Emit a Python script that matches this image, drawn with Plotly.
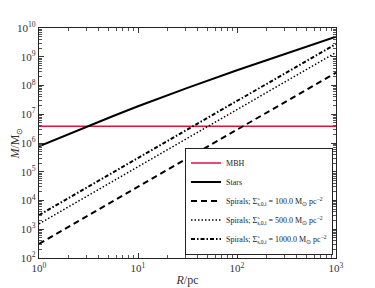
import plotly.graph_objects as go

# ---- data ----
R_mbh = [1, 1000]
M_mbh = [3.8e6, 3.8e6]

R_stars = [1, 1.78, 3.16, 5.62, 10, 17.8, 31.6, 100, 316, 1000]
M_stars = [7.6e5, 1.74e6, 3.98e6, 8.7e6, 1.9e7, 4.07e7, 8.3e7, 3.4e8, 1.32e9, 5.0e9]

R_spiral = [1, 10, 100, 1000]
M_spiral_100 = [3.1e2, 3.0e4, 2.9e6, 2.8e8]
M_spiral_500 = [1.55e3, 1.5e5, 1.45e7, 1.4e9]
M_spiral_1000 = [3.1e3, 3.0e5, 2.9e7, 2.8e9]

x_tickvals = [1, 10, 100, 1000]
x_ticktext = ["10<sup>0</sup>", "10<sup>1</sup>", "10<sup>2</sup>", "10<sup>3</sup>"]
y_tickvals = [1e2, 1e3, 1e4, 1e5, 1e6, 1e7, 1e8, 1e9, 1e10]
y_ticktext = ["10<sup>%d</sup>" % e for e in range(2, 11)]

FONT = "Liberation Serif"

def minor_vals(lo, hi):
    vals = []
    for e in range(lo, hi):
        for m in range(2, 10):
            vals.append(m * 10 ** e)
    return vals

fig = go.Figure()
fig.add_trace(go.Scatter(x=R_mbh, y=M_mbh, mode="lines", name="MBH",
                         line=dict(color="crimson", width=1.5)))
fig.add_trace(go.Scatter(x=R_stars, y=M_stars, mode="lines", name="Stars",
                         line=dict(color="black", width=2)))
fig.add_trace(go.Scatter(x=R_spiral, y=M_spiral_100, mode="lines",
                         name="Spirals; Σ̃<sub>s,0,i</sub> = 100.0 M<sub>⊙</sub> pc<sup>−2</sup>",
                         line=dict(color="black", width=2, dash="6px,4px")))
fig.add_trace(go.Scatter(x=R_spiral, y=M_spiral_500, mode="lines",
                         name="Spirals; Σ̃<sub>s,0,i</sub> = 500.0 M<sub>⊙</sub> pc<sup>−2</sup>",
                         line=dict(color="black", width=1.5, dash="1.5px,2px")))
fig.add_trace(go.Scatter(x=R_spiral, y=M_spiral_1000, mode="lines",
                         name="Spirals; Σ̃<sub>s,0,i</sub> = 1000.0 M<sub>⊙</sub> pc<sup>−2</sup>",
                         line=dict(color="black", width=2, dash="4px,2px,1.5px,2px")))

axis_common = dict(type="log", showgrid=False, zeroline=False, showline=True,
                   linecolor="#222", linewidth=1.2, mirror="allticks",
                   ticks="inside", ticklen=5, tickwidth=1, tickcolor="#333",
                   automargin=False,
                   tickfont=dict(family=FONT, size=11, color="#333"))

fig.update_xaxes(range=[0, 3], tickvals=x_tickvals, ticktext=x_ticktext,
                 minor=dict(tickvals=minor_vals(0, 3), ticks="inside", ticklen=2.5,
                            tickcolor="#555", tickwidth=0.8),
                 title=dict(text="<i>R</i>/pc", font=dict(family=FONT, size=12, color="#333"),
                            standoff=2),
                 **axis_common)
fig.update_yaxes(range=[2, 10], tickvals=y_tickvals, ticktext=y_ticktext,
                 minor=dict(tickvals=minor_vals(2, 10), ticks="inside", ticklen=2.5,
                            tickcolor="#555", tickwidth=0.8),
                 title=dict(text="<i>M</i>/M<sub>⊙</sub>", font=dict(family=FONT, size=12, color="#333"),
                            standoff=5),
                 **axis_common)

# page body adds an 8px offset; margins compensate so the plot sits where the reference's does
fig.update_layout(
    width=375, height=288,
    margin=dict(l=31, r=47, t=20, b=37.5),
    paper_bgcolor="white", plot_bgcolor="white",
    showlegend=True,
    legend=dict(x=0.99, y=0.015, xanchor="right", yanchor="bottom",
                bgcolor="white", bordercolor="#222", borderwidth=1,
                font=dict(family=FONT, size=8, color="#222"),
                itemwidth=30, tracegroupgap=0),
)

fig.write_html("out.html")
